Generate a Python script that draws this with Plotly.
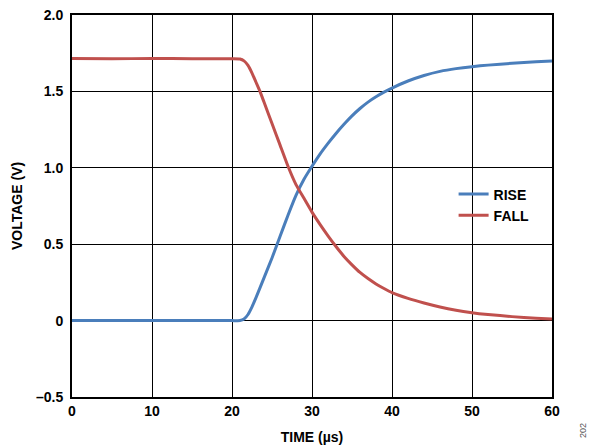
import plotly.graph_objects as go

rise_t = [0, 5, 10, 15, 20, 21, 21.5, 22, 22.5, 23, 24, 25, 26, 27, 28, 29, 30, 31, 32, 33, 34, 35, 36, 37, 38, 39, 40, 42, 44, 46, 48, 50, 52, 55, 58, 60]
rise_v = [0, 0.001, 0, 0.001, 0, 0, 0.01, 0.04, 0.09, 0.15, 0.28, 0.41, 0.55, 0.69, 0.82, 0.925, 1.01, 1.09, 1.16, 1.225, 1.285, 1.34, 1.388, 1.43, 1.465, 1.495, 1.522, 1.568, 1.604, 1.631, 1.649, 1.662, 1.672, 1.684, 1.694, 1.699]

fall_t = [0, 5, 10, 15, 20, 21, 21.5, 22, 22.5, 23, 23.5, 24, 25, 26, 27, 28, 29, 30, 31, 32, 33, 34, 35, 36, 37, 38, 39, 40, 42, 44, 46, 48, 50, 52, 55, 58, 60]
fall_v = [1.715, 1.714, 1.715, 1.714, 1.714, 1.712, 1.70, 1.67, 1.62, 1.56, 1.50, 1.43, 1.29, 1.15, 1.01, 0.89, 0.80, 0.71, 0.63, 0.555, 0.485, 0.42, 0.365, 0.315, 0.275, 0.24, 0.21, 0.183, 0.145, 0.115, 0.089, 0.068, 0.052, 0.04, 0.026, 0.016, 0.011]

x_ticks = [0, 10, 20, 30, 40, 50, 60]
y_ticks = [-0.5, 0, 0.5, 1.0, 1.5, 2.0]
y_tick_text = ["\u20130.5", "0", "0.5", "1.0", "1.5", "2.0"]

font = "Liberation Sans, Arial, sans-serif"

fig = go.Figure()
fig.add_trace(go.Scatter(x=rise_t, y=rise_v, mode="lines", name="<b>RISE</b>",
                         line=dict(color="#4A7EBB", width=3, shape="spline", smoothing=0.5)))
fig.add_trace(go.Scatter(x=fall_t, y=fall_v, mode="lines", name="<b>FALL</b>",
                         line=dict(color="#C0504D", width=3, shape="spline", smoothing=0.5)))

fig.update_layout(
    width=589, height=448,
    margin=dict(l=72, r=37, t=15, b=51, autoexpand=False),
    paper_bgcolor="white", plot_bgcolor="white",
    font=dict(family=font, size=14, color="black"),
    showlegend=True,
    legend=dict(x=0.795, y=0.572, xanchor="left", yanchor="top",
                bgcolor="rgba(0,0,0,0)", font=dict(size=14, family=font, color="black"),
                tracegroupgap=0, itemwidth=30, traceorder="normal"),
    xaxis=dict(range=[0, 60], tickvals=x_ticks, showgrid=True, gridcolor="black", gridwidth=1,
               zeroline=False, showline=True, linecolor="black", linewidth=2, mirror=True,
               ticks="", automargin=False, tickfont=dict(size=14, family=font, weight="bold"),
               title=dict(text="<b>TIME (µs)</b>", font=dict(size=14, family=font), standoff=14)),
    yaxis=dict(range=[-0.5, 2.0], tickvals=y_ticks, ticktext=y_tick_text, showgrid=True,
               gridcolor="black", gridwidth=1, zeroline=False, showline=True, linecolor="black",
               linewidth=2, mirror=True, ticks="", ticklabelstandoff=4, automargin=False,
               tickfont=dict(size=14, family=font, weight="bold"),
               title=dict(text="<b>VOLTAGE (V)</b>", font=dict(size=14, family=font), standoff=10)),
)
fig.add_annotation(text="202", xref="paper", yref="paper", showarrow=False,
                   x=(583 - 72) / 480, y=(397 - 431) / 382, xanchor="center", yanchor="middle",
                   textangle=-90, font=dict(size=9, color="#555555", family=font))

fig.write_html("out.html", config={"displayModeBar": False},
               post_script="document.body.style.margin='0';")
